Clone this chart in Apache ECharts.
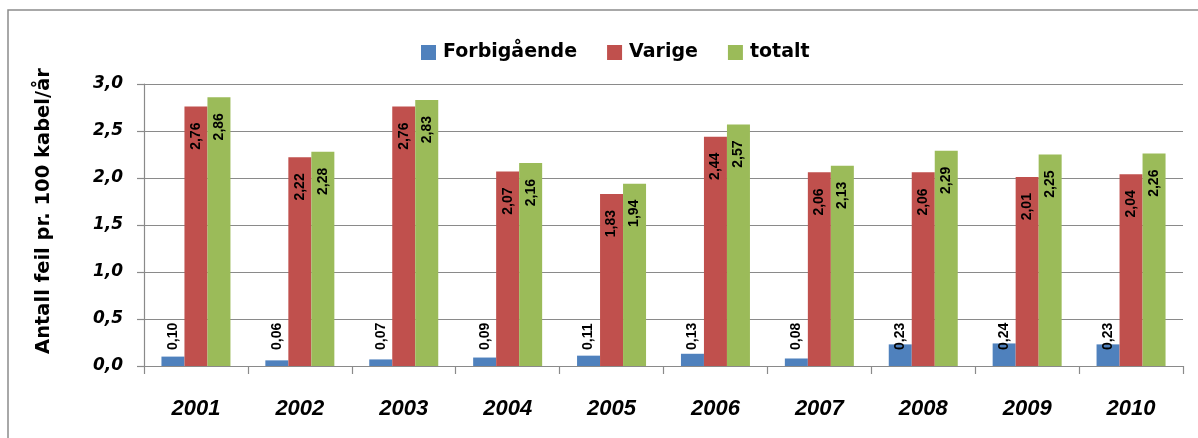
<!DOCTYPE html>
<html>
<head>
<meta charset="utf-8">
<script src="https://cdn.jsdelivr.net/npm/echarts@6/dist/echarts.min.js"></script>
<style>
html,body{margin:0;padding:0;background:#fff;}
#chart{width:1198px;height:438px;}
</style>
</head>
<body>
<div id="chart"></div>
<script>
var categories = ['2001','2002','2003','2004','2005','2006','2007','2008','2009','2010'];
var forbigaende = [0.10,0.06,0.07,0.09,0.11,0.13,0.08,0.23,0.24,0.23];
var varige = [2.76,2.22,2.76,2.07,1.83,2.44,2.06,2.06,2.01,2.04];
var totalt = [2.86,2.28,2.83,2.16,1.94,2.57,2.13,2.29,2.25,2.26];
var seriesNames = ['Forbigående','Varige','totalt'];
var yTitle = 'Antall feil pr. 100 kabel/år';

var chart = echarts.init(document.getElementById('chart'));
function fmt2(p){ return p.value.toFixed(2).replace('.', ','); }
var labelFont = {fontFamily:'Liberation Sans, Arial, sans-serif', fontWeight:'bold', fontSize:14, color:'#000'};
var topLabel = Object.assign({show:true, position:'insideTop', distance:16, rotate:90, align:'right', verticalAlign:'middle', formatter:fmt2}, labelFont);
var bottomLabel = Object.assign({show:true, position:'insideBottom', distance:16, rotate:90, align:'left', verticalAlign:'middle', formatter:fmt2}, labelFont);

chart.setOption({
  animation:false,
  backgroundColor:'#fff',
  graphic:[
    {type:'rect', shape:{x:8,y:10,width:1300,height:600}, style:{fill:'none', stroke:'#8c8c8c', lineWidth:1.5}, silent:true, z:-1},
    {type:'text', x:44, y:211, rotation:Math.PI/2, style:{text:yTitle, fontFamily:'DejaVu Sans, sans-serif', fontWeight:'bold', fontSize:19.5, fill:'#000', align:'center', verticalAlign:'middle'}}
  ],
  legend:{
    top:38, left:416, itemWidth:15, itemHeight:15, itemGap:30,
    icon:'rect',
    textStyle:{fontFamily:'DejaVu Sans, sans-serif', fontWeight:'bold', fontSize:19, color:'#000', padding:[0,0,0,2]},
    data:seriesNames
  },
  grid:{left:144, right:15, top:84, bottom:72},
  xAxis:{
    type:'category', data:categories, boundaryGap:true,
    axisLine:{lineStyle:{color:'#8a8a8a', width:1.2}},
    axisTick:{show:true, length:8, alignWithLabel:false, lineStyle:{color:'#8a8a8a', width:1.2}},
    axisLabel:{margin:32, fontFamily:'Liberation Sans, Arial, sans-serif', fontWeight:'bold', fontStyle:'italic', fontSize:22, color:'#000'}
  },
  yAxis:{
    type:'value', min:0, max:3, interval:0.5,
    axisLine:{show:true, lineStyle:{color:'#8a8a8a', width:1.2}},
    axisTick:{show:true, length:7, lineStyle:{color:'#8a8a8a', width:1.2}},
    splitLine:{lineStyle:{color:'#8a8a8a', width:1.2}},
    axisLabel:{margin:21, formatter:function(v){return v.toFixed(1).replace('.', ',');}, fontFamily:'DejaVu Sans, sans-serif', fontWeight:'bold', fontStyle:'italic', fontSize:17, color:'#000'}
  },
  series:[
    {name:seriesNames[0], type:'bar', data:forbigaende, barWidth:23, barGap:'0%', itemStyle:{color:'#4F81BD'}, label:bottomLabel},
    {name:seriesNames[1], type:'bar', data:varige, barWidth:23, barGap:'0%', itemStyle:{color:'#C0504D'}, label:topLabel},
    {name:seriesNames[2], type:'bar', data:totalt, barWidth:23, barGap:'0%', itemStyle:{color:'#9BBB59'}, label:topLabel}
  ]
});
</script>
</body>
</html>
